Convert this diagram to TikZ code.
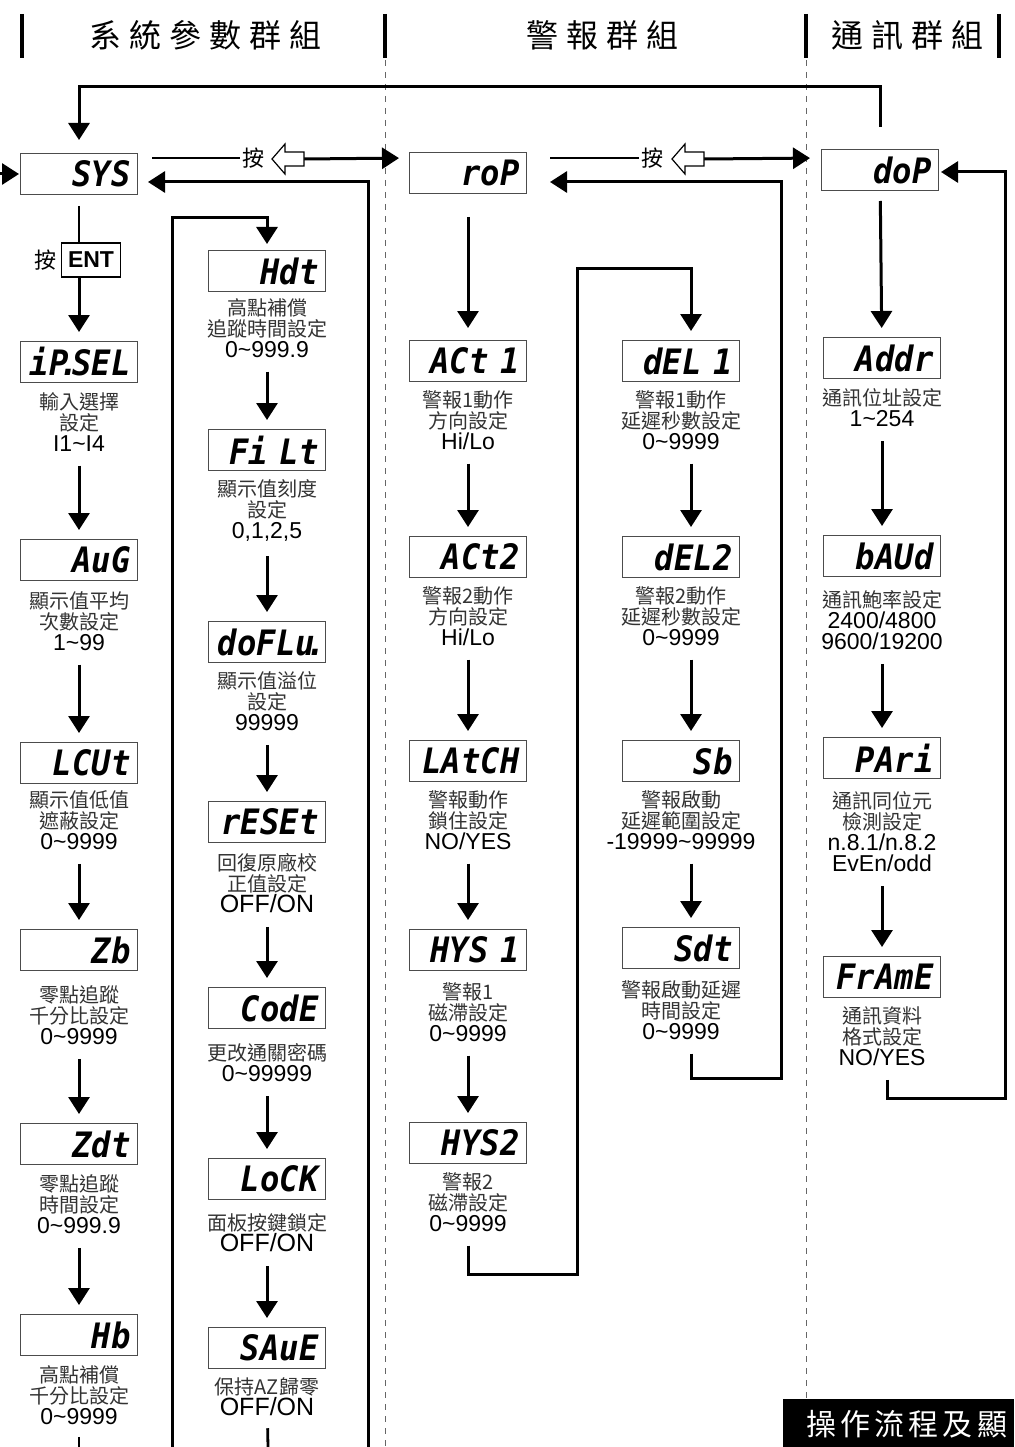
\documentclass[tikz,border=0pt]{standalone}
\usepackage{fontspec}
\setmainfont{Liberation Sans}
\newfontfamily\cjk{Noto Sans CJK TC}
\newfontfamily\headfont{Noto Sans CJK TC}[LetterSpace=25]
\newfontfamily\bannerfont{Noto Sans CJK TC}[LetterSpace=14]
\newfontfamily\segfont{DejaVu Sans Mono}[FakeStretch=0.92]
\usetikzlibrary{arrows.meta, positioning}

\newcommand{\segdot}{\kern-.25em.\kern-.2em}
\newcommand{\nm}[1]{{\color{black}\rmfamily\fontsize{23}{24}\selectfont #1}}
\newcommand{\onoff}{{\color{black}\rmfamily\fontsize{25}{26}\selectfont OFF/ON}}

\tikzset{
  disp/.style={draw=black!70, line width=1pt, minimum width=117pt, minimum height=41pt,
    inner xsep=7pt, inner ysep=0pt, text width=103pt, align=right,
    font=\segfont\bfseries\itshape\fontsize{35}{35}\selectfont},
  desc/.style={align=center, inner sep=0pt, text=black!80, font=\cjk\fontsize{20}{21}\selectfont},
  press/.style={inner sep=2pt, font=\cjk\fontsize{22}{22}\selectfont},
  flow/.style={-{Triangle[length=17pt,width=21pt]}, line width=3pt},
  gapped/.style={shorten <=14pt, shorten >=9pt},
  wire/.style={line width=2.8pt},
  grp/.style={line width=4pt},
  sep/.style={black!60, line width=1pt, dash pattern=on 6pt off 6pt},
  keyshape/.style={draw=black, line width=1.2pt, fill=white, line join=miter},
}

\begin{document}
\begin{tikzpicture}[x=1pt, y=-1pt]
\useasboundingbox (0,0) rectangle (1014,1447);

% group headings
\draw[grp] (22,14) -- (22,58);
\draw[grp] (385,14) -- (385,58);
\draw[grp] (806,14) -- (806,58);
\draw[grp] (999,14) -- (999,58);
\node[font=\headfont\fontsize{32}{32}\selectfont] (hsys) at (205,35) {系統參數群組};
\node[font=\headfont\fontsize{32}{32}\selectfont] (halm) at (602,35) {警報群組};
\node[font=\headfont\fontsize{32}{32}\selectfont] (hcom) at (907,35) {通訊群組};
\draw[sep] (385,60) -- (385,1447);
\draw[sep] (806,60) -- (806,1399);

% system group
\node[disp] (sys) at (79,174) {SYS};
\node[draw, line width=1.4pt, inner sep=2pt, minimum width=59pt, minimum height=34pt,
  font=\bfseries\fontsize{23}{23}\selectfont] (ent) at (91,260) {ENT};
\node[press] (press0) [left=2pt of ent] {按};
\node[disp] (ipsel) at (79,362) {iP\segdot SEL};
\node[desc] (ipselt) at (79,422) {輸入選擇\\設定\\\nm{I1\textasciitilde I4}};
\node[disp] (avg) at (79,560) {AuG};
\node[desc] (avgt) at (79,621) {顯示值平均\\次數設定\\\nm{1\textasciitilde 99}};
\node[disp] (lcut) at (79,763) {LCUt};
\node[desc] (lcutt) at (79,820) {顯示值低值\\遮蔽設定\\\nm{0\textasciitilde 9999}};
\node[disp] (zb) at (79,950) {Zb};
\node[desc] (zbt) at (79,1015) {零點追蹤\\千分比設定\\\nm{0\textasciitilde 9999}};
\node[disp] (zdt) at (79,1144) {Zdt};
\node[desc] (zdtt) at (79,1204) {零點追蹤\\時間設定\\\nm{0\textasciitilde 999.9}};
\node[disp] (hb) at (79,1335) {Hb};
\node[desc] (hbt) at (79,1395) {高點補償\\千分比設定\\\nm{0\textasciitilde 9999}};
\coordinate (hbend) at (79,1447);

\node[disp] (hdt) at (267,271) {Hdt};
\node[desc] (hdtt) at (267,328) {高點補償\\追蹤時間設定\\\nm{0\textasciitilde 999.9}};
\node[disp] (filt) at (267,450) {Fi Lt};
\node[desc] (filtt) at (267,511) {顯示值刻度\\設定\\\nm{0,1,2,5}};
\node[disp] (doflu) at (267,642) {doFLu\segdot};
\node[desc] (dofut) at (267,701) {顯示值溢位\\設定\\\nm{99999}};
\node[disp] (reset) at (267,822) {rESEt};
\node[desc] (resett) at (267,883) {回復原廠校\\正值設定\\\onoff};
\node[disp] (code) at (267,1008) {CodE};
\node[desc] (codet) at (267,1063) {更改通關密碼\\\nm{0\textasciitilde 99999}};
\node[disp] (lock) at (267,1179) {LoCK};
\node[desc] (lockt) at (267,1233) {面板按鍵鎖定\\\onoff};
\node[disp] (save) at (267,1348) {SAuE};
\node[desc] (savet) at (267,1397) {保持AZ歸零\\\onoff};
\coordinate (saveend) at (268,1447);
\coordinate (hloop) at (172,1447);
\coordinate (sret) at (368,1447);

\draw[wire, shorten <=11pt] (sys) -- (sys |- ent.north);
\draw[flow, shorten >=9pt] (sys |- ent.south) -- (ipsel);
\draw[flow, gapped] (ipselt) -- (avg);
\draw[flow, gapped] (avgt) -- (lcut);
\draw[flow, gapped] (lcutt) -- (zb);
\draw[flow, gapped] (zbt) -- (zdt);
\draw[flow, gapped] (zdtt) -- (hb);
\draw[wire, shorten <=12pt] (hbt) -- (hbend);
\draw[flow, shorten >=6pt] (hloop) |- ([yshift=32pt]hdt.north) -- (hdt.north);
\draw[flow, gapped] (hdtt) -- (filt);
\draw[flow, gapped] (filtt) -- (doflu);
\draw[flow, gapped] (dofut) -- (reset);
\draw[flow, gapped] (resett) -- (code);
\draw[flow, gapped] (codet) -- (lock);
\draw[flow, gapped] (lockt) -- (save);
\draw[wire, shorten <=12pt] (savet) -- (saveend);
\draw[flow, shorten >=10pt] (sret) |- ([yshift=-8pt]sys.east);

% alarm group
\node[disp] (rop) at (468,173) {roP};
\node[disp] (act1) at (468,361) {ACt 1};
\node[desc] (act1t) at (468,420) {警報1動作\\方向設定\\\nm{Hi/Lo}};
\node[disp] (act2) at (468,557) {ACt2};
\node[desc] (act2t) at (468,616) {警報2動作\\方向設定\\\nm{Hi/Lo}};
\node[disp] (latch) at (468,761) {LAtCH};
\node[desc] (latcht) at (468,820) {警報動作\\鎖住設定\\\nm{NO/YES}};
\node[disp] (hys1) at (468,950) {HYS 1};
\node[desc] (hys1t) at (468,1012) {警報1\\磁滯設定\\\nm{0\textasciitilde 9999}};
\node[disp] (hys2) at (468,1143) {HYS2};
\node[desc] (hys2t) at (468,1202) {警報2\\磁滯設定\\\nm{0\textasciitilde 9999}};

\node[disp] (del1) at (681,361) {dEL 1};
\node[desc] (del1t) at (681,420) {警報1動作\\延遲秒數設定\\\nm{0\textasciitilde 9999}};
\node[disp] (del2) at (681,557) {dEL2};
\node[desc] (del2t) at (681,616) {警報2動作\\延遲秒數設定\\\nm{0\textasciitilde 9999}};
\node[disp] (sb) at (681,761) {Sb};
\node[desc] (sbt) at (681,820) {警報啟動\\延遲範圍設定\\\nm{-19999\textasciitilde 99999}};
\node[disp] (sdt) at (681,948) {Sdt};
\node[desc] (sdtt) at (681,1010) {警報啟動延遲\\時間設定\\\nm{0\textasciitilde 9999}};
\coordinate (abot) at (577,1274);
\coordinate (atop) at (577,268);
\coordinate (dbot) at (781,1078);

\draw[flow, shorten <=23pt, shorten >=12pt] (rop) -- (act1);
\draw[flow, gapped] (act1t) -- (act2);
\draw[flow, gapped] (act2t) -- (latch);
\draw[flow, gapped] (latcht) -- (hys1);
\draw[flow, gapped] (hys1t) -- (hys2);
\draw[flow, shorten <=14pt, shorten >=9pt] (hys2t) |- (abot) -- (atop) -| ([xshift=10pt]del1.north);
\draw[flow, gapped] ([xshift=10pt]del1t.south) -- ([xshift=10pt]del2.north);
\draw[flow, gapped] ([xshift=10pt]del2t.south) -- ([xshift=10pt]sb.north);
\draw[flow, gapped] ([xshift=10pt]sbt.south) -- ([xshift=10pt]sdt.north);
\draw[flow, shorten <=14pt, shorten >=23pt] ([xshift=10pt]sdtt.south) |- (dbot) |- ([yshift=-9pt]rop.east);

% communication group
\node[disp] (dop) at (880,170) {doP};
\node[disp] (addr) at (882,358) {Addr};
\node[desc] (addrt) at (882,408) {通訊位址設定\\\nm{1\textasciitilde 254}};
\node[disp] (baud) at (882,556) {bAUd};
\node[desc] (baudt) at (882,620) {通訊鮑率設定\\\nm{2400/4800}\\\nm{9600/19200}};
\node[disp] (pari) at (882,758) {PAri};
\node[desc] (parit) at (882,832) {通訊同位元\\檢測設定\\\nm{n.8.1/n.8.2}\\\nm{EvEn/odd}};
\node[disp] (frame) at (882,977) {FrAmE};
\node[desc] (framet) at (882,1036) {通訊資料\\格式設定\\\nm{NO/YES}};
\coordinate (cbot) at (1005,1098);
\coordinate (topbar) at (480,87);
\coordinate (entry) at (-2,174);

\draw[flow, shorten <=10pt, shorten >=9pt] (dop) -- (addr);
\draw[flow, gapped] (addrt) -- (baud);
\draw[flow, gapped] (baudt) -- (pari);
\draw[flow, gapped] (parit) -- (frame);
\draw[flow, shorten <=14pt, shorten >=2pt] ([xshift=5pt]framet.south) |- (cbot) |- ([yshift=-2pt]dop.east);
\draw[flow, shorten <=22pt, shorten >=13pt] (dop.north) |- (topbar) -| (sys.north);
\draw[flow, shorten >=1pt] (entry) -- (sys.west);

% page keys
\node[press] (press1) at (253,158) {按};
\coordinate (key1) at (272,159);
\node[press] (press2) at (652,158) {按};
\coordinate (key2) at (672,159);
\draw[wire, shorten <=14pt] ([yshift=16pt]sys.east) -- (press1);
\draw[wire, shorten <=23pt] ([yshift=15pt]rop.east) -- (press2);
\draw[flow, shorten >=10pt] ([xshift=32pt]key1) -- ([yshift=15pt]rop.west);
\draw[flow, shorten >=11pt] ([xshift=32pt]key2) -- ([yshift=12pt]dop.west);
\draw[keyshape] (key1) -- ++(13,-15) -- ++(0,8) -- ++(19,0) -- ++(0,14) -- ++(-19,0) -- ++(0,8) -- cycle;
\draw[keyshape] (key2) -- ++(13,-15) -- ++(0,8) -- ++(19,0) -- ++(0,14) -- ++(-19,0) -- ++(0,8) -- cycle;

% footer
\fill[black] (783,1399) rectangle (1014,1447);
\node[anchor=west, inner sep=0pt, text=white, font=\bannerfont\fontsize{30}{30}\selectfont] (banner) at (806,1424) {操作流程及顯};
\end{tikzpicture}
\end{document}
